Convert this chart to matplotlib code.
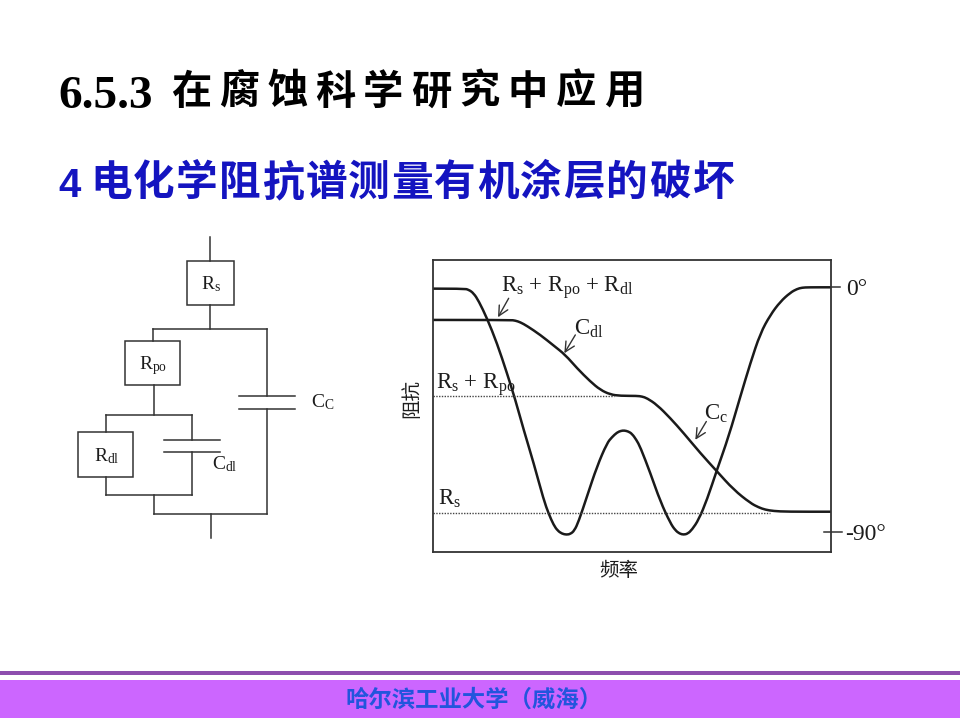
import matplotlib
matplotlib.use('Agg')
import matplotlib.pyplot as plt
from matplotlib.patches import Rectangle, PathPatch
from matplotlib.path import Path

plt.rcParams['mathtext.fontset'] = 'custom'
plt.rcParams['mathtext.rm'] = 'Liberation Serif'
plt.rcParams['mathtext.it'] = 'Liberation Serif'
plt.rcParams['mathtext.default'] = 'rm'

CJK = ['Noto Sans CJK SC', 'DejaVu Sans']
SERIF = 'Liberation Serif'
INK = '#1c1c1c'

# Curves (digitised units, y grows downwards)
phase_x = [98, 190, 205, 220, 235, 260, 290, 320, 345, 370, 400, 430, 445, 460, 472, 485, 498,
           510, 522, 535, 560, 590, 620, 635, 650, 662, 672, 684, 695, 708, 720, 750, 780, 810,
           825, 838, 850, 862, 875, 895, 920, 950, 985, 1020, 1050, 1080, 1110, 1140, 1170,
           1190, 1205, 1225, 1292]
phase_y = [146, 146, 149, 160, 183, 235, 310, 400, 480, 570, 670, 780, 822, 856, 873, 882, 885,
           883, 873, 845, 770, 680, 610, 592, 578, 573, 572, 575, 582, 600, 622, 700, 785, 850,
           872, 882, 885, 882, 870, 840, 780, 690, 590, 470, 370, 280, 225, 185, 158,
           147, 143, 142, 142]

imp_x = [98, 330, 345, 360, 380, 420, 460, 495, 530, 570, 600, 630, 660, 710, 725, 740, 770, 810,
         850, 900, 950, 1000, 1050, 1075, 1095, 1120, 1160, 1292]
imp_y = [240, 240, 242, 247, 258, 285, 317, 345, 385, 425, 450, 464, 468, 468, 470, 475, 495, 535,
         580, 640, 695, 750, 790, 803, 810, 814, 816, 816]

rs_rpo_level = 468
rs_level = 819
deg_0 = 142
deg_90 = 878

title_num = '6.5.3'
title_chars = list('在腐蚀科学研究中应用')
subtitle = '4 电化学阻抗谱测量有机涂层的破坏'
footer = '哈尔滨工业大学（威海）'

# Circuit wires
wires = [
    ((450, 20), (450, 92)), ((450, 224), (450, 296)), ((280, 296), (622, 296)),
    ((280, 296), (280, 334)), ((622, 296), (622, 498)), ((538, 498), (706, 498)),
    ((538, 537), (706, 537)), ((622, 537), (622, 851)), ((282, 851), (622, 851)),
    ((282, 795), (282, 851)), ((453, 851), (453, 925)), ((281, 464), (281, 555)),
    ((138, 555), (395, 555)), ((138, 555), (138, 607)), ((395, 555), (395, 629)),
    ((312, 629), (480, 629)), ((312, 665), (480, 665)), ((395, 665), (395, 795)),
    ((138, 795), (395, 795)), ((138, 740), (138, 795)),
]
boxes = [(380, 92, 141, 132), (195, 334, 165, 130), (54, 607, 164, 133)]
circuit_labels = [
    (424, 178, r'R$_{\mathrm{s}}$'), (238, 419, r'R$_{\mathrm{po}}$'),
    (102, 695, r'R$_{\mathrm{dl}}$'), (455, 719, r'C$_{\mathrm{dl}}$'),
    (754, 533, r'C$_{\mathrm{C}}$'),
]


# Smooth line through the read points: they act as quadratic bezier controls
def smooth_path(xs, ys):
    verts = [(xs[0], ys[0])]
    codes = [Path.MOVETO]
    for i in range(1, len(xs) - 1):
        verts.append((xs[i], ys[i]))
        verts.append(((xs[i] + xs[i + 1]) / 2, (ys[i] + ys[i + 1]) / 2))
        codes += [Path.CURVE3, Path.CURVE3]
    verts.append((xs[-1], ys[-1]))
    codes.append(Path.LINETO)
    return Path(verts, codes)


fig = plt.figure(figsize=(9.6, 7.2), dpi=100, facecolor='white')

# page layer in pixels
page = fig.add_axes([0, 0, 1, 1])
page.set_xlim(0, 960)
page.set_ylim(720, 0)
page.axis('off')
page.add_patch(Rectangle((0, 671), 960, 3.5, color='#8e4fae', lw=0))
page.add_patch(Rectangle((0, 680), 960, 38, color='#cc66ff', lw=0))
page.text(474, 700, footer, family=CJK, weight='bold', fontsize=16.8, color='#2255dd',
          ha='center', va='center')

page.text(58, 108, title_num, family=SERIF, weight='bold', fontsize=34, color='black')
for i, ch in enumerate(title_chars):
    page.text(191 + i * 48.1, 92, ch, family=CJK, weight='bold', fontsize=29, color='black',
              ha='center', va='center')
page.text(58, 197, subtitle[0], family='Liberation Sans', weight='bold', fontsize=29, color='#1414c0')
for i, ch in enumerate(subtitle[2:]):
    page.text(111 + i * 43, 183, ch, family=CJK, weight='bold', fontsize=30, color='#1414c0',
              ha='center', va='center')

# circuit
cir = fig.add_axes([60 / 960, (720 - 550) / 720, 300 / 960, 320 / 720])
cir.set_xlim(0, 900)
cir.set_ylim(960, 0)
cir.axis('off')
for (x0, y0), (x1, y1) in wires:
    cir.plot([x0, x1], [y0, y1], color='#333333', lw=1.1, solid_capstyle='projecting')
for x, y, w, h in boxes:
    cir.add_patch(Rectangle((x, y), w, h, fill=False, ec='#333333', lw=1.1))
for x, y, s in circuit_labels:
    cir.text(x, y, s, family=SERIF, fontsize=14, color=INK)

# impedance / phase chart
ax = fig.add_axes([433 / 960, (720 - 552) / 720, 398 / 960, 292 / 720])
ax.set_xlim(98, 1292)
ax.set_ylim(937, 60)
ax.set_xticks([])
ax.set_yticks([])
for s in ax.spines.values():
    s.set_linewidth(1.3)
    s.set_color('#333333')

ax.plot([98, 640], [rs_rpo_level, rs_rpo_level], color='#444444', lw=1.0, ls=(0, (1, 1)))
ax.plot([98, 1110], [rs_level, rs_level], color='#444444', lw=1.0, ls=(0, (1, 1)))
ax.add_patch(PathPatch(smooth_path(phase_x, phase_y), fill=False, ec='#1a1a1a', lw=1.8))
ax.add_patch(PathPatch(smooth_path(imp_x, imp_y), fill=False, ec='#1a1a1a', lw=1.8))

ax.plot([1292, 1320], [deg_0, deg_0], color='#333333', lw=1.1, clip_on=False)
ax.plot([1270, 1325], [deg_90, deg_90], color='#333333', lw=1.1, clip_on=False)
ax.text(1336, 165, '0°', family=SERIF, fontsize=17, color=INK)
ax.text(1335, 900, '-90°', family=SERIF, fontsize=17, color=INK)

ax.text(302, 156, r'R$_{\mathrm{s}}$ + R$_{\mathrm{po}}$ + R$_{\mathrm{dl}}$', family=SERIF, fontsize=16.5, color=INK)
ax.text(520, 283, r'C$_{\mathrm{dl}}$', family=SERIF, fontsize=16.5, color=INK)
ax.text(108, 448, r'R$_{\mathrm{s}}$ + R$_{\mathrm{po}}$', family=SERIF, fontsize=16.5, color=INK)
ax.text(912, 541, r'C$_{\mathrm{c}}$', family=SERIF, fontsize=16.5, color=INK)
ax.text(113, 796, r'R$_{\mathrm{s}}$', family=SERIF, fontsize=16.5, color=INK)

for tail, head in [((325, 175), (293, 232)), ((525, 285), (492, 340)), ((918, 545), (885, 600))]:
    ax.annotate('', xy=head, xytext=tail,
                arrowprops=dict(arrowstyle='->,head_length=0.7,head_width=0.35', color='#333333',
                                lw=1.0, shrinkA=0, shrinkB=0))

ax.text(35, 475, '阻抗', family=CJK, fontsize=14, color=INK, rotation=90, ha='center', va='center')
ax.text(655, 993, '频率', family=CJK, fontsize=14, color=INK, ha='center', va='center')

fig.savefig('out.png', dpi=100)
